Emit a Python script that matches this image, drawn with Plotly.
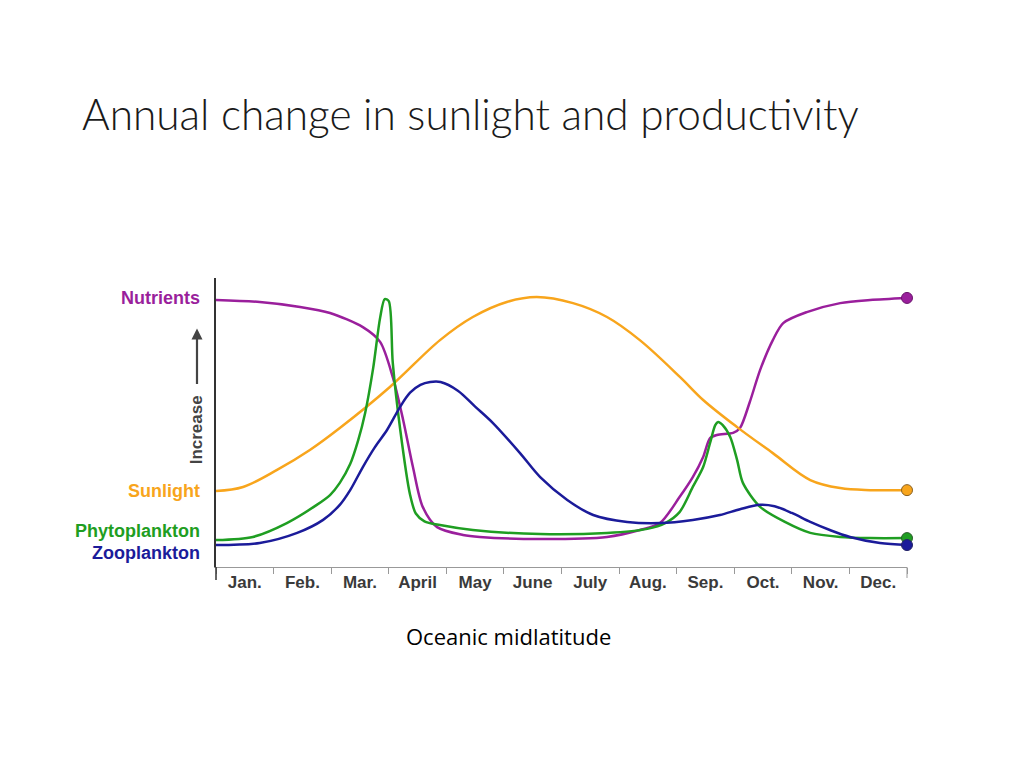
import plotly.graph_objects as go

# ---- data (x in months from start of January, y in relative units 0-100) ----
month_labels = ["Jan.", "Feb.", "Mar.", "April", "May", "June", "July", "Aug.", "Sep.", "Oct.", "Nov.", "Dec."]

months_nut = [0, 0.76, 1.46, 1.98, 2.55, 2.85, 3.07, 3.25, 3.42, 3.59, 3.84, 4.29, 4.58, 5.63, 6.79, 7.36,
              7.71, 8.05, 8.28, 8.46, 8.58, 8.70, 8.98, 9.10, 9.27, 9.45, 9.67, 9.85, 10.26, 10.84, 11.36, 12]
nutrients = [92.4, 91.7, 90.0, 87.9, 83.0, 77.9, 65.7, 50.9, 34.6, 20.8, 13.8, 11.1, 10.4, 9.7, 10.4, 12.8,
             15.2, 24.2, 31.1, 38.1, 44.6, 45.7, 46.4, 48.1, 57.1, 68.2, 78.5, 84.4, 88.2, 91.3, 92.4, 93.1]

months_sun = [0, 0.47, 1.06, 1.63, 2.15, 3.02, 3.89, 4.46, 5.05, 5.57, 6.20, 6.79, 7.36, 8.06, 8.46, 9.05,
              9.67, 10.32, 10.84, 11.36, 12]
sunlight = [26.3, 27.7, 33.6, 40.5, 48.1, 62.3, 78.5, 86.5, 91.7, 93.4, 91.3, 86.5, 78.5, 65.7, 57.8, 48.4,
            39.4, 30.1, 27.3, 26.6, 26.6]

months_phy = [0, 0.64, 1.23, 1.75, 1.98, 2.15, 2.33, 2.47, 2.59, 2.73, 2.85, 2.93, 3.00, 3.07, 3.20, 3.37,
              3.47, 3.62, 3.89, 4.46, 5.63, 6.79, 7.49, 7.80, 8.05, 8.28, 8.46, 8.58, 8.67, 8.72, 8.80, 8.93,
              9.05, 9.15, 9.45, 9.88, 10.32, 10.84, 11.36, 12]
phytoplankton = [9.3, 10.4, 15.2, 21.5, 24.9, 29.1, 35.6, 43.9, 53.3, 68.9, 86.2, 92.7, 92.0, 70.6, 47.4, 25.0,
                 18.5, 15.8, 14.5, 12.8, 11.4, 11.8, 13.2, 15.2, 19.0, 27.7, 34.6, 42.9, 49.1, 50.2, 49.1, 45.0,
                 37.0, 29.1, 20.8, 15.6, 11.8, 10.4, 10.0, 10.0]

months_zoo = [0, 0.76, 1.41, 1.86, 2.15, 2.33, 2.55, 2.76, 2.97, 3.20, 3.37, 3.55, 3.72, 3.90, 4.20, 4.50, 4.81,
              5.28, 5.63, 6.10, 6.55, 7.14, 7.71, 8.28, 8.75, 9.10, 9.45, 9.70, 10.00, 10.32, 10.66, 11.01,
              11.53, 12]
zooplankton = [7.6, 8.3, 11.8, 16.3, 21.5, 26.6, 34.6, 41.5, 47.4, 55.5, 60.3, 63.0, 64.0, 64.0, 61.0, 55.5, 49.8,
               39.4, 31.1, 23.2, 18.0, 15.6, 15.2, 16.3, 18.0, 20.0, 21.5, 21.0, 18.7, 15.6, 12.8, 10.4,
               8.3, 7.6]

PURPLE = "#9a1f9c"
ORANGE = "#f8a51c"
GREEN = "#1f9e22"
BLUE = "#1b1b9a"

series = [
    ("Nutrients", months_nut, nutrients, PURPLE, "#6a146c", 0.8),
    ("Sunlight", months_sun, sunlight, ORANGE, "#8a6020", 1.0),
    ("Phytoplankton", months_phy, phytoplankton, GREEN, "#2a5a2a", 0.8),
    ("Zooplankton", months_zoo, zooplankton, BLUE, "#222266", 0.9),
]

fig = go.Figure()
for name, xs, ys, col, edge, sm in series:
    fig.add_trace(go.Scatter(x=xs, y=ys, mode="lines", name=name,
                             line=dict(color=col, width=2.5, shape="spline", smoothing=sm),
                             cliponaxis=False, showlegend=False, hoverinfo="skip"))
for name, xs, ys, col, edge, sm in series:
    fig.add_trace(go.Scatter(x=[xs[-1]], y=[ys[-1]], mode="markers",
                             marker=dict(color=col, size=11, line=dict(color=edge, width=1)),
                             cliponaxis=False, showlegend=False, hoverinfo="skip"))

label_font = "Liberation Sans, Arial, sans-serif"
annotations = []
label_pos = [("Nutrients", 0.931, PURPLE), ("Sunlight", 0.263, ORANGE),
             ("Phytoplankton", 0.125, GREEN), ("Zooplankton", 0.048, BLUE)]
for txt, yp, col in label_pos:
    annotations.append(dict(text="<b>%s</b>" % txt, xref="paper", yref="paper", x=-0.020, y=yp,
                            xanchor="right", yanchor="middle", showarrow=False,
                            font=dict(family=label_font, size=18, color=col)))
annotations.append(dict(text="<b>Increase</b>", xref="paper", yref="paper", x=-0.0285, y=0.474,
                        textangle=-90, showarrow=False, xanchor="center", yanchor="middle",
                        font=dict(family=label_font, size=17, color="#444444")))
annotations.append(dict(text="", xref="paper", yref="paper", x=-0.0275, y=0.825,
                        ax=0, ay=57, showarrow=True, arrowhead=2, arrowsize=1, arrowwidth=2.2,
                        arrowcolor="#444444"))
annotations.append(dict(text="Oceanic midlatitude", xref="paper", yref="paper", x=0.4226, y=-0.239,
                        xanchor="center", yanchor="middle", showarrow=False,
                        font=dict(family="Open Sans, sans-serif", size=22, color="#000000")))

shapes = [
    dict(type="line", xref="paper", yref="paper", x0=0, x1=0, y0=0, y1=-0.045,
         line=dict(color="#333333", width=1.5)),
    dict(type="line", xref="paper", yref="paper", x0=1, x1=1, y0=0, y1=-0.038,
         line=dict(color="#999999", width=1)),
]

fig.update_layout(
    width=1024, height=768,
    margin=dict(l=208, r=125, t=270, b=209),
    paper_bgcolor="white", plot_bgcolor="white",
    title=dict(text="Annual change in sunlight and productivity", x=0.0723, xanchor="left",
               y=0.861, yanchor="middle", yref="container",
               font=dict(family="Lato, Open Sans, sans-serif", size=42.4, color="#1a1a1a", weight=300)),
    xaxis=dict(range=[0, 12], showgrid=False, zeroline=False, showline=True, linecolor="#999999",
               linewidth=1, tickmode="array", tickvals=[i + 0.5 for i in range(12)],
               ticktext=["<b>%s</b>" % m for m in month_labels],
               ticks="", tickfont=dict(family=label_font, size=17, color="#3a3a3a"),
               minor=dict(tickmode="array", tickvals=list(range(13)), ticks="outside", ticklen=6,
                          tickcolor="#999999", tickwidth=1, showgrid=False)),
    yaxis=dict(range=[0, 100], showgrid=False, zeroline=False, showline=True, linecolor="#333333",
               linewidth=1.5, showticklabels=False, ticks=""),
    annotations=annotations,
    shapes=shapes,
)

fig.write_html("out.html")
